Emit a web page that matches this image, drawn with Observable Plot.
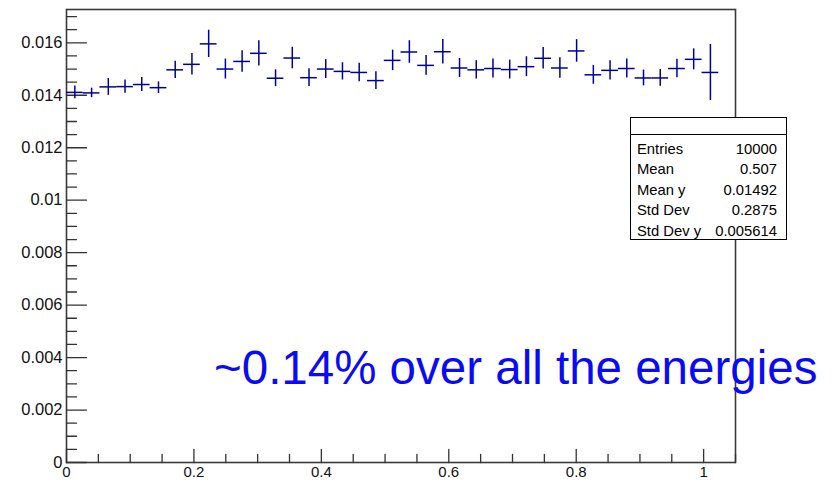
<!DOCTYPE html>
<html>
<head>
<meta charset="utf-8">
<script src="https://cdn.jsdelivr.net/npm/d3@7"></script>
<script src="https://cdn.jsdelivr.net/npm/@observablehq/plot@0.6"></script>
<style>
  body { margin: 0; background: #fff; }
  #wrap { position: relative; width: 840px; height: 483px; font-family: "Liberation Sans", Arial, Helvetica, sans-serif; }
  #stats { position: absolute; left: 630px; top: 117px; width: 157px; height: 123px; box-sizing: border-box;
           border: 1px solid #000; background: #fff; font-size: 14.8px; color: #000; }
  #stats .title { height: 16px; border-bottom: 1px solid #000; }
  #stats .body { padding: 4px 9px 0 6px; }
  #stats .row { display: flex; justify-content: space-between; line-height: 20.4px; height: 20.4px; }
  #note { position: absolute; left: 214px; top: 344px; font-size: 47.5px; line-height: 47.5px; color: #0a0af5; white-space: nowrap; }
</style>
</head>
<body>
<div id="wrap">
  <div id="chart"></div>
  <div id="stats"></div>
  <div id="note"></div>
</div>
<script>
// Profile histogram: 40 bins on [0, 1.05]; the last bin is empty.
const xMax = 1.05;
const nBins = 40;
const yMax = 0.01727;

// Mean y per bin and its error (bins 1..39)
const binMeans = [
  0.01411, 0.01409, 0.01432, 0.01433, 0.01441, 0.01429, 0.01497, 0.01518, 0.01596, 0.01500,
  0.01529, 0.01560, 0.01465, 0.01542, 0.01467, 0.01500, 0.01491, 0.01487, 0.01456, 0.01533,
  0.01565, 0.01514, 0.01566, 0.01504, 0.01497, 0.01502, 0.01498, 0.01509, 0.01541, 0.01504,
  0.01569, 0.01478, 0.01495, 0.01502, 0.01466, 0.01466, 0.01502, 0.01537, 0.01487
];
const binErrors = [
  0.00024, 0.00018, 0.00032, 0.00025, 0.00027, 0.00022, 0.00033, 0.00041, 0.00052, 0.00038,
  0.00041, 0.00048, 0.00032, 0.00041, 0.00034, 0.00036, 0.00033, 0.00035, 0.00034, 0.00039,
  0.00043, 0.00038, 0.00047, 0.00036, 0.00035, 0.00036, 0.00036, 0.00038, 0.00041, 0.00039,
  0.00043, 0.00036, 0.00037, 0.00036, 0.00030, 0.00032, 0.00035, 0.00040, 0.00107
];

// Axis tick values
const xTicks = [0, 0.2, 0.4, 0.6, 0.8, 1];
const yTicks = [0, 0.002, 0.004, 0.006, 0.008, 0.01, 0.012, 0.014, 0.016];

// Statistics box
const statLabels = ["Entries", "Mean", "Mean y", "Std Dev", "Std Dev y"];
const statValues = ["10000", "0.507", "0.01492", "0.2875", "0.005614"];

const noteText = "~0.14% over all the energies";

const binWidth = xMax / nBins;
const bins = binMeans.map((m, i) => ({
  lo: i * binWidth, hi: (i + 1) * binWidth, mid: (i + 0.5) * binWidth, m, e: binErrors[i]
}));

const xMinor = d3.range(0, 22).filter(i => i % 4 !== 0).map(i => i * 0.05);
const yMinor = d3.range(0, 35).filter(i => i % 4 !== 0).map(i => i * 0.0005);

// Straight tick line drawn from the anchor point
const tickShape = { draw(ctx, l) { ctx.moveTo(0, 0); ctx.lineTo(0, -l); } };
const axisInk = "#333";
const markInk = "#000099";

const chart = Plot.plot({
  width: 840,
  height: 483,
  marginLeft: 66,
  marginRight: 105,
  marginTop: 9,
  marginBottom: 21,
  x: { domain: [0, xMax], label: null },
  y: { domain: [0, yMax], label: null },
  style: { fontFamily: '"Liberation Sans", Arial, Helvetica, sans-serif', fontSize: "16.5px", color: "#000", background: "#fff" },
  marks: [
    Plot.frame({ stroke: "#3a3a3a", strokeWidth: 1.6 }),
    // inward ticks on the y axis
    Plot.vector(yTicks, { x: () => 0, y: d => d, length: 20, rotate: 90, anchor: "start", shape: tickShape, stroke: axisInk, strokeWidth: 1.3 }),
    Plot.vector(yMinor, { x: () => 0, y: d => d, length: 10, rotate: 90, anchor: "start", shape: tickShape, stroke: axisInk, strokeWidth: 1.3 }),
    // inward ticks on the x axis
    Plot.vector(xTicks, { x: d => d, y: () => 0, length: 13, rotate: 0, anchor: "start", shape: tickShape, stroke: axisInk, strokeWidth: 1.3 }),
    Plot.vector(xMinor, { x: d => d, y: () => 0, length: 8, rotate: 0, anchor: "start", shape: tickShape, stroke: axisInk, strokeWidth: 1.3 }),
    Plot.axisY(yTicks, { tickSize: 0, tickPadding: 4, tickFormat: d3.format("~g"), label: null, fill: "#111" }),
    Plot.axisX(xTicks, { tickSize: 0, tickPadding: 4, tickFormat: d3.format("~g"), label: null, fill: "#111", fontSize: 15 }),
    // error crosses: horizontal bar spans the bin, vertical bar is ±error
    Plot.ruleY(bins, { y: "m", x1: "lo", x2: "hi", stroke: markInk, strokeWidth: 1.5 }),
    Plot.ruleX(bins, { x: "mid", y1: d => d.m - d.e, y2: d => d.m + d.e, stroke: markInk, strokeWidth: 1.5 })
  ]
});
document.getElementById("chart").append(chart);

const stats = document.getElementById("stats");
stats.innerHTML = '<div class="title"></div><div class="body">' +
  statLabels.map((l, i) => `<div class="row"><span>${l}</span><span>${statValues[i]}</span></div>`).join("") +
  '</div>';
document.getElementById("note").textContent = noteText;
</script>
</body>
</html>
